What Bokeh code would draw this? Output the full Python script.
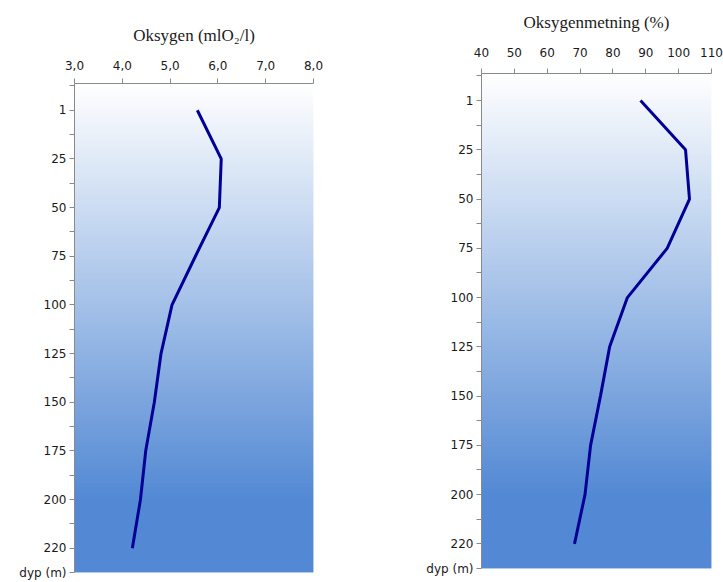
from bokeh.plotting import figure
from bokeh.layouts import row, column
from bokeh.models import FixedTicker, Range1d
from bokeh.embed import file_html
from bokeh.resources import INLINE

# ---- data ----
depth_labels = ["1", "25", "50", "75", "100", "125", "150", "175", "200", "220"]
oxygen = [5.57, 6.07, 6.03, 5.53, 5.04, 4.81, 4.67, 4.49, 4.38, 4.21]
saturation = [88.4, 102.1, 103.3, 96.5, 84.4, 79.0, 76.2, 73.2, 71.5, 68.3]
oxy_ticks = [3, 4, 5, 6, 7, 8]
oxy_tick_labels = ["3,0", "4,0", "5,0", "6,0", "7,0", "8,0"]
sat_ticks = [40, 50, 60, 70, 80, 90, 100, 110]
sat_tick_labels = ["40", "50", "60", "70", "80", "90", "100", "110"]
depth_axis_title = "dyp (m)"

TOP_C = (255, 255, 255)
BOT_C = (83, 137, 212)
LINE_C = "#000096"
AXIS_C = "#8a8a8a"
TEXT_C = "#1a1a1a"


def make_fig(values, xticks, xlabels, title, x0, x1, width, height,
             mb_left, mb_right, mb_top, mb_bottom, label_standoff, title_standoff):
    n = len(depth_labels)
    y_top, y_bot = -0.55, n - 0.5
    p = figure(width=width, height=height, output_backend="svg",
               toolbar_location=None, x_axis_location="above",
               x_range=Range1d(x0, x1), y_range=Range1d(y_bot, y_top),
               min_border_left=mb_left, min_border_right=mb_right,
               min_border_top=mb_top, min_border_bottom=mb_bottom)
    p.outline_line_color = None
    p.grid.visible = False
    p.background_fill_color = "white"
    p.border_fill_color = "white"

    # gradient background strips (overlapping to avoid seams)
    steps = 160
    lefts, rights, tops, bots, cols = [], [], [], [], []
    for i in range(steps):
        t0 = i / steps
        t1 = min((i + 2) / steps, 1.0)
        tm = (i + 0.5) / steps
        f = min(tm / 0.85, 1.0)
        c = tuple(int(round(TOP_C[k] + (BOT_C[k] - TOP_C[k]) * f)) for k in range(3))
        lefts.append(x0)
        rights.append(x1)
        tops.append(y_top + (y_bot - y_top) * t0)
        bots.append(y_top + (y_bot - y_top) * t1)
        cols.append("#%02x%02x%02x" % c)
    p.quad(left=lefts, right=rights, top=tops, bottom=bots,
           fill_color=cols, line_color=None)

    ys = list(range(n))
    p.line(values, ys, line_color=LINE_C, line_width=3)

    # x axis (top)
    xa = p.xaxis[0]
    xa.ticker = FixedTicker(ticks=xticks)
    xa.major_label_overrides = {t: l for t, l in zip(xticks, xlabels)}
    xa.minor_tick_line_color = None
    xa.major_tick_out = 5
    xa.major_tick_in = 0
    xa.axis_line_color = AXIS_C
    xa.major_tick_line_color = AXIS_C
    xa.major_label_text_font = "DejaVu Sans"
    xa.major_label_text_font_size = "12px"
    xa.major_label_text_color = TEXT_C
    xa.major_label_standoff = label_standoff
    xa.axis_label = title
    xa.axis_label_text_font = "Liberation Serif"
    xa.axis_label_text_font_size = "17px"
    xa.axis_label_text_font_style = "normal"
    xa.axis_label_text_color = TEXT_C
    xa.axis_label_standoff = title_standoff

    # y axis (left)
    ya = p.yaxis[0]
    major = ys + [n - 0.5]
    minor = [i - 0.5 for i in range(n)]
    ya.ticker = FixedTicker(ticks=major, minor_ticks=minor)
    overrides = {i: lab for i, lab in enumerate(depth_labels)}
    overrides[n - 0.5] = depth_axis_title
    ya.major_label_overrides = overrides
    ya.major_tick_out = 5
    ya.major_tick_in = 0
    ya.minor_tick_out = 5
    ya.minor_tick_in = 0
    ya.axis_line_color = AXIS_C
    ya.major_tick_line_color = AXIS_C
    ya.minor_tick_line_color = AXIS_C
    ya.major_label_text_font = "DejaVu Sans"
    ya.major_label_text_font_size = "12px"
    ya.major_label_text_color = TEXT_C
    ya.major_label_standoff = 3
    return p


left = make_fig(oxygen, oxy_ticks, oxy_tick_labels, "Oksygen (mlO\u2082/l)",
                3, 8, 400, 582, 74, 87, 83, 10, 9, 13)
right = make_fig(saturation, sat_ticks, sat_tick_labels, "Oksygenmetning (%)",
                 40, 110, 323, 582, 81, 12, 73, 14, 12, 13)

layout = row(column(left), column(right), spacing=0)
open("out.html", "w").write(file_html(layout, INLINE))
